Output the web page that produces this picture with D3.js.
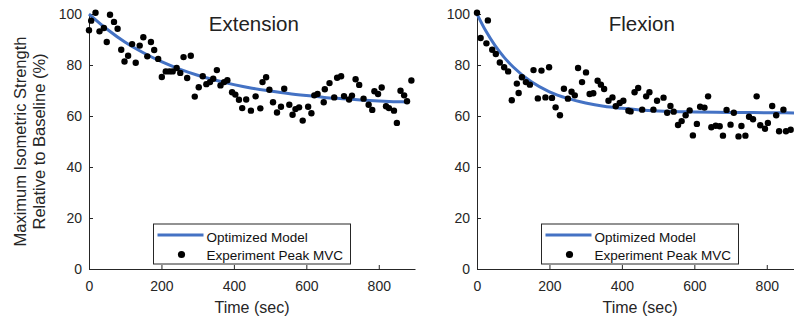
<!DOCTYPE html>
<html>
<head>
<meta charset="utf-8">
<script src="https://cdn.jsdelivr.net/npm/d3@7"></script>
<style>
  body { margin: 0; background: #fff; }
  svg { display: block; font-family: "Liberation Sans", Arial, Helvetica, sans-serif; }
</style>
</head>
<body>
<script>
"use strict";

// Extension: experiment peak MVC (time in sec, % of baseline)
const extTime = [0, 6, 18, 29, 41, 49, 58, 69, 79, 89, 98, 108, 119, 129, 140, 150, 161, 171, 180, 191,
  201, 212, 222, 231, 242, 252, 261, 271, 281, 292, 303, 314, 324, 334, 343, 353, 363, 373, 382, 395,
  404, 414, 423, 434, 447, 460, 473, 479, 489, 498, 508, 519, 530, 539, 553, 562, 570, 580, 590,
  605, 614, 622, 631, 648, 651, 664, 677, 685, 696, 704, 718, 726, 736, 746, 758, 772, 782, 788, 798,
  808, 820, 828, 842, 850, 860, 870, 878, 890];
const extValue = [93.6, 97.4, 100.5, 93.2, 94.5, 89, 99.7, 96.9, 94.2, 86, 81.4, 83.6, 88.2, 80.9, 87.6, 90.9, 83.4, 89, 85.9, 82.4,
  75.3, 77.5, 77.5, 77.5, 78.8, 76.9, 83.1, 74.9, 83.6, 67.6, 71.3, 75.6, 72.5, 73.3, 74.6, 78, 72, 73.3, 74, 69.3,
  68.4, 66.4, 63.1, 66.5, 62.1, 67.7, 63, 73.3, 75.2, 70.3, 65.4, 61.4, 63.6, 70.7, 64.4, 60.5, 62.7, 63.4, 58.2,
  63.6, 61.1, 68.1, 68.6, 65.4, 70.5, 72.9, 67.3, 75, 75.6, 67.8, 66.5, 68, 74.4, 72.2, 66.8, 64.4, 62.4, 69.7, 68.6,
  71.2, 63.8, 63.1, 62.1, 57.3, 69.9, 68.1, 65.8, 73.9];
// Extension: optimized model curve
const extModelTime = [0, 50, 100, 150, 200, 250, 300, 350, 400, 450, 500, 550, 600, 650, 700, 750, 800, 850, 880];
const extModelValue = [100, 94.0, 88.9, 84.8, 81.3, 78.4, 76.0, 74.0, 72.3, 70.9, 69.8, 68.8, 68.0, 67.3, 66.8, 66.3, 65.9, 65.6, 65.5];

// Flexion: experiment peak MVC
const flxTime = [0, 10, 26, 30, 42, 52, 63, 75, 86, 96, 110, 115, 124, 135, 146, 156, 168, 178, 189, 199,
  207, 217, 229, 240, 251, 261, 270, 279, 290, 301, 311, 321, 333, 342, 351, 363, 374, 383, 394, 404,
  418, 424, 435, 445, 456, 467, 476, 487, 497, 515, 525, 534, 543, 555, 565, 576, 587, 596, 607, 616,
  628, 638, 647, 659, 670, 679, 689, 700, 709, 722, 730, 741, 751, 762, 772, 782, 795, 803, 815, 826,
  834, 846, 853, 866];
const flxValue = [100.5, 90.6, 88.5, 97.5, 86, 84.3, 81, 79.1, 77.5, 66.2, 72.7, 69, 75.2, 73.3, 72.3, 78, 66.9, 77.8, 67.3, 79.1,
  67.1, 63.4, 60.3, 70.7, 66.8, 69.5, 68.1, 78.8, 73.3, 77.1, 68.6, 68.9, 73.8, 72.3, 70.6, 66, 67.3, 63.8, 65.1, 66,
  62.1, 61.8, 69.3, 71, 62.5, 67.7, 69.3, 62.5, 66, 67.2, 61.3, 63.9, 61.7, 56.5, 58, 60.3, 62.2, 52.4, 56.9, 63.6,
  63.3, 67.7, 55.6, 56.2, 56, 52.3, 62.4, 56.6, 61.3, 52, 56.1, 52.3, 59.7, 58.7, 67.7, 56.4, 55, 57.3, 63.9, 60.3,
  54, 62.5, 54, 54.6];
const flxModelTime = [0, 25, 50, 75, 100, 150, 200, 250, 300, 350, 400, 450, 500, 600, 700, 800, 900];
const flxModelValue = [100, 93.2, 87.6, 83.0, 79.2, 73.4, 69.5, 66.9, 65.1, 63.8, 63.0, 62.4, 62.0, 61.6, 61.4, 61.3, 61.2];

const xTicks = [0, 200, 400, 600, 800];
const yTicks = [0, 20, 40, 60, 80, 100];
const legendLabels = ["Optimized Model", "Experiment Peak MVC"];

const w = 794;
const h = 320;
const plotTop = 14;
const plotBottom = 269;
const plotW = 326;
const ink = "#262626";
const blue = "#4472c4";

const svg = d3.select("body").append("svg").attr("width", w).attr("height", h);

const panels = [
  { title: "Extension", left: 89, time: extTime, value: extValue, mt: extModelTime, mv: extModelValue },
  { title: "Flexion", left: 477, time: flxTime, value: flxValue, mt: flxModelTime, mv: flxModelValue }
];

panels.forEach((p, i) => {
  const x = d3.scaleLinear().domain([0, 900]).range([p.left, p.left + plotW]);
  const y = d3.scaleLinear().domain([0, 100]).range([plotBottom, plotTop]);
  const g = svg.append("g");

  // axes (ticks point inward, like matlab)
  const xAxis = d3.axisBottom(x).tickValues(xTicks).tickSizeInner(-4).tickSizeOuter(0).tickPadding(12);
  const yAxis = d3.axisLeft(y).tickValues(yTicks).tickSizeInner(-4).tickSizeOuter(0).tickPadding(7);

  g.append("g").attr("transform", `translate(0,${plotBottom})`).call(xAxis);
  g.append("g").attr("transform", `translate(${p.left},0)`).call(yAxis);

  g.selectAll(".domain, .tick line").attr("stroke", ink);
  g.selectAll(".tick text").attr("fill", ink).attr("font-size", 14);
  g.selectAll("g").attr("font-family", null).attr("font-size", null);

  // model curve
  const line = d3.line().x((d, k) => x(p.mt[k])).y((d) => y(d)).curve(d3.curveMonotoneX);
  g.append("path")
    .attr("d", line(p.mv))
    .attr("fill", "none")
    .attr("stroke", blue)
    .attr("stroke-width", 3);

  // experiment points
  g.selectAll("circle.dot")
    .data(p.value)
    .enter()
    .append("circle")
    .attr("class", "dot")
    .attr("cx", (d, k) => x(p.time[k]))
    .attr("cy", (d) => y(d))
    .attr("r", 3.2)
    .attr("fill", "#000");

  // title
  g.append("text")
    .attr("x", x(455))
    .attr("y", 30.5)
    .attr("text-anchor", "middle")
    .attr("font-size", 20.5)
    .attr("fill", "#222")
    .text(p.title);

  // x label
  g.append("text")
    .attr("x", x(450))
    .attr("y", 313)
    .attr("text-anchor", "middle")
    .attr("font-size", 16)
    .attr("fill", ink)
    .text("Time (sec)");

  // legend
  const lx = p.left + 64.5;
  const lg = g.append("g").attr("transform", `translate(${lx},224)`);
  lg.append("rect").attr("width", 197).attr("height", 40).attr("fill", "#fff").attr("stroke", ink).attr("stroke-width", 1);
  lg.append("line").attr("x1", 4).attr("x2", 50).attr("y1", 11).attr("y2", 11).attr("stroke", blue).attr("stroke-width", 3);
  lg.append("circle").attr("cx", 28).attr("cy", 30.5).attr("r", 3.6).attr("fill", "#000");
  lg.selectAll("text.lab")
    .data(legendLabels)
    .enter()
    .append("text")
    .attr("class", "lab")
    .attr("x", 53)
    .attr("y", (d, k) => 17.5 + k * 18)
    .attr("font-size", 13.5)
    .attr("fill", "#111")
    .text((d) => d);

  if (i === 0) {
    const yl = ["Maximum Isometric Strength", "Relative to Baseline (%)"];
    g.selectAll("text.ylab")
      .data(yl)
      .enter()
      .append("text")
      .attr("class", "ylab")
      .attr("transform", (d, k) => `translate(${26 + k * 19},${(plotTop + plotBottom) / 2}) rotate(-90)`)
      .attr("text-anchor", "middle")
      .attr("font-size", 16.5)
      .attr("fill", ink)
      .text((d) => d);
  }
});
</script>
</body>
</html>
